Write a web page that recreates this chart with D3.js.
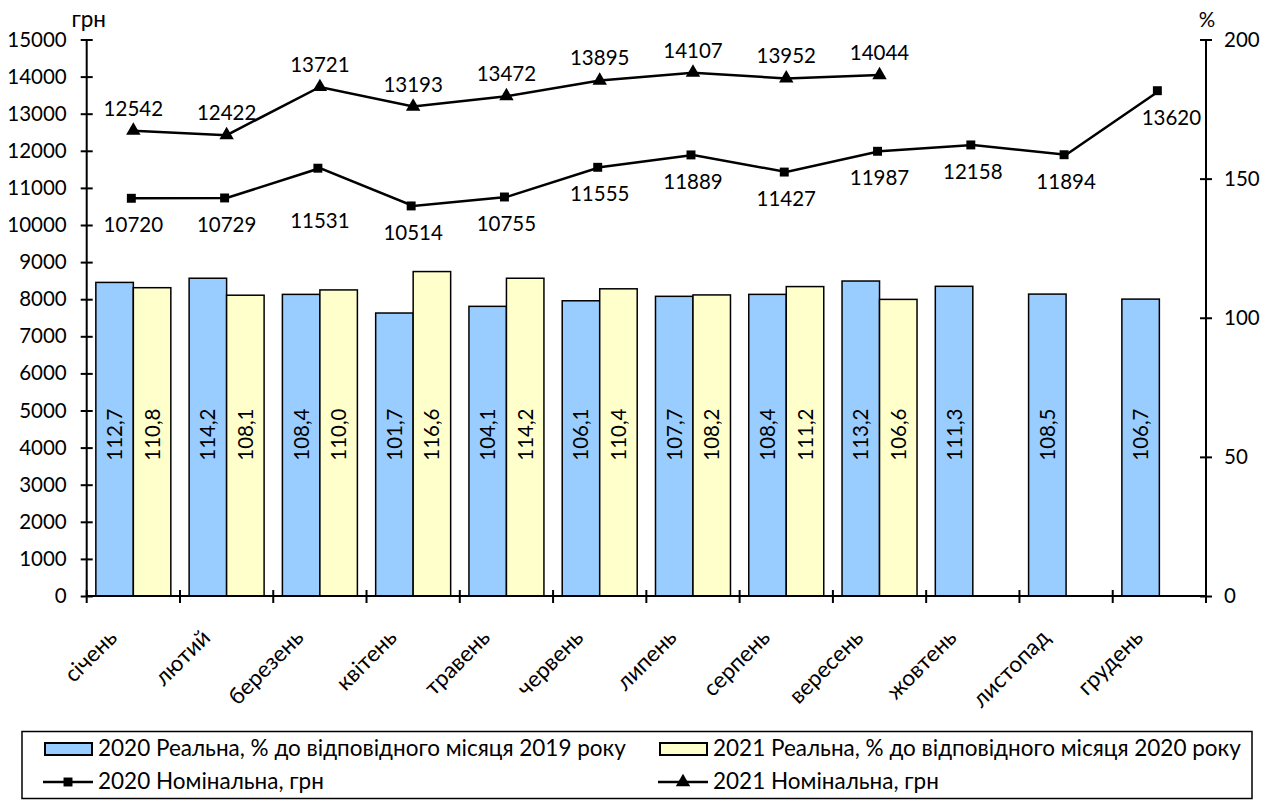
<!DOCTYPE html>
<html><head><meta charset="utf-8">
<script src="https://cdn.jsdelivr.net/npm/d3@7"></script>
<style>body{margin:0;background:#fff}svg{display:block}text{font-family:Lato,"Noto Sans",sans-serif;fill:#000}</style>
</head><body>
<svg id="c" width="1269" height="800"></svg>
<script>
const months = ["січень","лютий","березень","квітень","травень","червень","липень","серпень","вересень","жовтень","листопад","грудень"];
const real2020 = [112.7,114.2,108.4,101.7,104.1,106.1,107.7,108.4,113.2,111.3,108.5,106.7];
const real2021 = [110.8,108.1,110.0,116.6,114.2,110.4,108.2,111.2,106.6];
const nom2020 = [10720,10729,11531,10514,10755,11555,11889,11427,11987,12158,11894,13620];
const nom2021 = [12542,12422,13721,13193,13472,13895,14107,13952,14044];
const leftTicks = d3.range(0,15001,1000);
const rightTicks = [0,50,100,150,200];
const legendLabels = ["2020 Реальна, % до відповідного місяця 2019 року","2021 Реальна, % до відповідного місяця 2020 року","2020 Номінальна, грн","2021 Номінальна, грн"];

const svg = d3.select("#c");
const L = 86.7, R = 1206, T = 39.5, B = 596;
const x = d3.scaleBand().domain(months).range([L,R]).paddingInner(0).paddingOuter(0);
const yL = d3.scaleLinear().domain([0,15000]).range([B,T]);
const yR = d3.scaleLinear().domain([0,200]).range([B,T]);
const bw = x.bandwidth()*0.402, off = x.bandwidth()*0.098;
const FS = 20.5, FT = 22.5;
// manual label nudges (layout only), keyed by month index
const nudge2020 = {2:[0,26], 11:[12,0]};

// bars
const g = svg.append("g");
g.selectAll(".b20").data(real2020).join("rect")
  .attr("x",(d,i)=>x(months[i])+off).attr("width",bw)
  .attr("y",d=>yR(d)).attr("height",d=>B-yR(d))
  .attr("fill","#99CCFF").attr("stroke","#000").attr("stroke-width",1.5);
g.selectAll(".b21").data(real2021).join("rect")
  .attr("x",(d,i)=>x(months[i])+off+bw).attr("width",bw)
  .attr("y",d=>yR(d)).attr("height",d=>B-yR(d))
  .attr("fill","#FFFFCC").attr("stroke","#000").attr("stroke-width",1.5);
const fmt = d=>d.toFixed(1).replace(".",",");
function barLabel(data, dx){
  g.selectAll(null).data(data).join("text")
    .attr("transform",(d,i)=>`translate(${x(months[i])+off+dx+bw/2+7.5},${yR(58)}) rotate(-90)`)
    .attr("text-anchor","middle").attr("font-size",FS).text(fmt);
}
barLabel(real2020,0); barLabel(real2021,bw);

// axes
const axL = svg.append("g").attr("transform",`translate(${L},0)`)
  .call(d3.axisLeft(yL).tickValues(leftTicks).tickSize(6).tickFormat(d=>d));
axL.selectAll(".tick line").attr("x1",6).attr("x2",-6);
const axR = svg.append("g").attr("transform",`translate(${R},0)`)
  .call(d3.axisRight(yR).tickValues(rightTicks).tickSize(6).tickFormat(d=>d));
axR.selectAll(".tick line").attr("x1",-6).attr("x2",6);
[axL,axR].forEach(a=>{
  a.select(".domain").attr("stroke","#000").attr("stroke-width",2).attr("d",`M0,${T}V${B}`);
  a.selectAll(".tick line").attr("stroke","#000").attr("stroke-width",2);
  a.selectAll(".tick text").attr("font-size",FS).attr("font-family","Lato,'Noto Sans',sans-serif").attr("fill","#000");
});
axL.selectAll(".tick text").attr("x",-20);
axR.selectAll(".tick text").attr("x",18);
// bottom axis
const bot = svg.append("g");
bot.append("line").attr("x1",L).attr("x2",R).attr("y1",B).attr("y2",B).attr("stroke","#000").attr("stroke-width",2);
bot.selectAll(null).data(months.concat(["_end"])).join("line")
  .attr("x1",(d,i)=>L+i*x.bandwidth()).attr("x2",(d,i)=>L+i*x.bandwidth())
  .attr("y1",B-6).attr("y2",B+7).attr("stroke","#000").attr("stroke-width",2);
bot.selectAll(null).data(months).join("text")
  .attr("transform",d=>`translate(${x(d)+x.bandwidth()/2-15},${B+43}) rotate(-45)`)
  .attr("text-anchor","end").attr("font-size",FT).text(d=>d);

svg.append("text").attr("x",L+2).attr("y",27).attr("text-anchor","middle").attr("font-size",FT).text("грн");
svg.append("text").attr("x",R+1).attr("y",27).attr("text-anchor","middle").attr("font-size",FS).text("%");

// lines
const cx = i=>x(months[i])+x.bandwidth()/2;
const line = d3.line().x((d,i)=>cx(i)).y(d=>yL(d));
svg.append("path").attr("d",line(nom2020)).attr("fill","none").attr("stroke","#000").attr("stroke-width",2.5);
svg.append("path").attr("d",line(nom2021)).attr("fill","none").attr("stroke","#000").attr("stroke-width",2.5);
const sq = d3.symbol().type(d3.symbolSquare).size(80);
const tri = d3.symbol().type(d3.symbolTriangle).size(90);
svg.selectAll(null).data(nom2020).join("path").attr("d",sq)
  .attr("transform",(d,i)=>`translate(${cx(i)-2},${yL(d)})`).attr("fill","#000");
svg.selectAll(null).data(nom2021).join("path").attr("d",tri)
  .attr("transform",(d,i)=>`translate(${cx(i)},${yL(d)})`).attr("fill","#000");
svg.selectAll(null).data(nom2020).join("text")
  .attr("x",(d,i)=>cx(i)+(nudge2020[i]?nudge2020[i][0]:0))
  .attr("y",(d,i)=>yL(d)+34+(nudge2020[i]?nudge2020[i][1]:0))
  .attr("text-anchor","middle").attr("font-size",FS).text(d=>d);
svg.selectAll(null).data(nom2021).join("text")
  .attr("x",(d,i)=>cx(i)).attr("y",d=>yL(d)-15).attr("text-anchor","middle").attr("font-size",FS).text(d=>d);

// legend
const lg = svg.append("g");
lg.append("rect").attr("x",22).attr("y",731.5).attr("width",1230).attr("height",67).attr("fill","#fff").attr("stroke","#000").attr("stroke-width",1.5);
const cols = [45,660], rows = [749,782];
legendLabels.forEach((t,k)=>{
  const cx0 = cols[k%2], cy = rows[Math.floor(k/2)];
  if(k<2){
    lg.append("rect").attr("x",cx0).attr("y",cy-6).attr("width",47).attr("height",12)
      .attr("fill",k==0?"#99CCFF":"#FFFFCC").attr("stroke","#000").attr("stroke-width",2);
  } else {
    lg.append("line").attr("x1",cx0-2).attr("x2",cx0+48).attr("y1",cy).attr("y2",cy).attr("stroke","#000").attr("stroke-width",2.5);
    lg.append("path").attr("d",k==2?sq():tri()).attr("transform",`translate(${cx0+23},${cy})`).attr("fill","#000");
  }
  lg.append("text").attr("x",cx0+53).attr("y",cy+7).attr("font-size",FT).text(t);
});
</script>
</body></html>
